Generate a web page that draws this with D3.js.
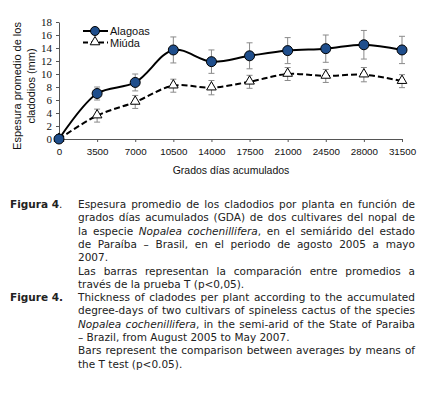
<!DOCTYPE html>
<html>
<head>
<meta charset="utf-8">
<script src="https://cdn.jsdelivr.net/npm/d3@7"></script>
<style>
  body { margin: 0; background: #fff; }
  svg { display: block; }
</style>
</head>
<body>
<script>
// categories and series
var gda = [0, 3500, 7000, 10500, 14000, 17500, 21000, 24500, 28000, 31500];
var alagoas = [0, 7.0, 8.7, 13.7, 11.9, 12.8, 13.6, 13.9, 14.5, 13.7];
var alagoasErr = [0.6, 1.0, 1.3, 2.0, 1.8, 2.0, 2.0, 2.1, 2.2, 2.1];
var miuda = [0, 3.6, 5.7, 8.2, 7.9, 8.8, 10.0, 9.7, 9.9, 8.9];
var miudaErr = [0.6, 1.0, 1.0, 1.0, 1.1, 1.0, 1.0, 1.0, 1.1, 1.0];
var yTicks = [0, 2, 4, 6, 8, 10, 12, 14, 16, 18];
var seriesNames = ["Alagoas", "Miúda"];

// caption lines; _ toggles italic, second item = justified
var captionEs = [
  ["Espesura promedio de los cladodios por planta en función de", true],
  ["grados días acumulados (GDA) de dos cultivares del nopal de", true],
  ["la especie _Nopalea cochenillifera_, en el semiárido del estado", true],
  ["de Paraíba – Brasil, en el periodo de agosto 2005 a mayo", true],
  ["2007.", false],
  ["Las barras representan la comparación entre promedios a", true],
  ["través de la prueba T (p<0,05).", false]
];
var captionEn = [
  ["Thickness of cladodes per plant according to the accumulated", true],
  ["degree-days of two cultivars of spineless cactus of the species", true],
  ["_Nopalea cochenillifera_, in the semi-arid of the State of Paraiba", true],
  ["– Brazil, from August 2005 to May 2007.", false],
  ["Bars represent the comparison between averages by means of", true],
  ["the T test (p<0.05).", false]
];

var width = 436, height = 398;
var svg = d3.select("body").append("svg")
    .attr("width", width)
    .attr("height", height);

//scales
var x = d3.scaleLinear().domain([0, 31500]).range([59, 402]);
var y = d3.scaleLinear().domain([0, 18]).range([139, 22]);

//y axis
var yAxis = svg.append("g")
    .attr("transform", "translate(59,0)")
    .call(d3.axisLeft(y).tickValues(yTicks).tickSize(3).tickSizeOuter(0));
yAxis.select(".domain").attr("stroke", "#555");
yAxis.selectAll(".tick line").attr("stroke", "#555");
yAxis.selectAll("text")
    .attr("font-family", "Liberation Serif, serif")
    .attr("font-size", 11)
    .attr("fill", "#111")
    .attr("dx", -1);

//x axis
var xAxis = svg.append("g")
    .attr("transform", "translate(0,139)")
    .call(d3.axisBottom(x).tickValues(gda).tickFormat(d3.format("d")).tickSize(3).tickSizeOuter(0));
xAxis.select(".domain").attr("stroke", "#555");
xAxis.selectAll(".tick line").attr("stroke", "#555");
xAxis.selectAll("text")
    .attr("font-family", "Liberation Sans, Arial, sans-serif")
    .attr("font-size", 9.8)
    .attr("fill", "#111")
    .attr("dy", "1.05em");

//axis titles
svg.append("text")
    .attr("x", 231)
    .attr("y", 174)
    .attr("text-anchor", "middle")
    .attr("font-family", "Liberation Sans, Arial, sans-serif")
    .attr("font-size", 10.5)
    .attr("fill", "#111")
    .text("Grados días acumulados");

var yTitle = svg.append("text")
    .attr("transform", "translate(20.5,86)rotate(-90)")
    .attr("text-anchor", "middle")
    .attr("font-family", "Liberation Sans, Arial, sans-serif")
    .attr("font-size", 11)
    .attr("fill", "#111");
yTitle.append("tspan").attr("x", 0).attr("y", 0).text("Espesura promedio de los");
yTitle.append("tspan").attr("x", 0).attr("y", 14.5).text("cladodios (mm)");

//error bars
function errorBars(vals, errs) {
    var g = svg.append("g").attr("stroke", "#8a8a8a").attr("stroke-width", 1);
    gda.forEach(function(d, i) {
        var top = y(vals[i] + errs[i]), bot = y(vals[i] - errs[i]), cx = x(d);
        g.append("line").attr("x1", cx).attr("x2", cx).attr("y1", top).attr("y2", Math.min(bot, 139));
        g.append("line").attr("x1", cx - 3).attr("x2", cx + 3).attr("y1", top).attr("y2", top);
        if (bot <= 139.5) {
            g.append("line").attr("x1", cx - 3).attr("x2", cx + 3).attr("y1", bot).attr("y2", bot);
        }
    });
}
errorBars(miuda, miudaErr);
errorBars(alagoas, alagoasErr);

//lines
var line = d3.line()
    .x(function(d, i) { return x(gda[i]); })
    .y(function(d) { return y(d); })
    .curve(d3.curveCatmullRom.alpha(0.5));

svg.append("path")
    .datum(miuda)
    .attr("fill", "none")
    .attr("stroke", "#000")
    .attr("stroke-width", 2)
    .attr("stroke-dasharray", "6,3")
    .attr("d", line);

svg.append("path")
    .datum(alagoas)
    .attr("fill", "none")
    .attr("stroke", "#000")
    .attr("stroke-width", 2)
    .attr("d", line);

//markers
var tri = d3.symbol().type(d3.symbolTriangle).size(40);
svg.selectAll(".miuda")
    .data(miuda)
    .enter()
    .append("path")
    .attr("class", "miuda")
    .attr("transform", function(d, i) { return "translate(" + x(gda[i]) + "," + (y(d) - 0.5) + ")"; })
    .attr("d", tri)
    .attr("fill", "#fff")
    .attr("stroke", "#000")
    .attr("stroke-width", 1);

svg.selectAll(".alagoas")
    .data(alagoas)
    .enter()
    .append("circle")
    .attr("class", "alagoas")
    .attr("cx", function(d, i) { return x(gda[i]); })
    .attr("cy", function(d) { return y(d); })
    .attr("r", 5)
    .attr("fill", "#1f4e8c")
    .attr("stroke", "#000")
    .attr("stroke-width", 1);

//legend
var legend = svg.append("g").attr("transform", "translate(83,31)");
legend.append("line").attr("x1", 0).attr("x2", 25).attr("y1", 0).attr("y2", 0)
    .attr("stroke", "#000").attr("stroke-width", 2);
legend.append("circle").attr("cx", 12).attr("cy", 0).attr("r", 4.5)
    .attr("fill", "#1f4e8c").attr("stroke", "#000");
legend.append("line").attr("x1", 0).attr("x2", 25).attr("y1", 11.5).attr("y2", 11.5)
    .attr("stroke", "#000").attr("stroke-width", 2).attr("stroke-dasharray", "5,3");
legend.append("path").attr("transform", "translate(12,11)").attr("d", tri)
    .attr("fill", "#fff").attr("stroke", "#000");
legend.selectAll(".lt")
    .data(seriesNames)
    .enter()
    .append("text")
    .attr("x", 27)
    .attr("y", function(d, i) { return i * 11.5 + 4; })
    .attr("font-family", "Liberation Sans, Arial, sans-serif")
    .attr("font-size", 11)
    .attr("fill", "#111")
    .text(function(d) { return d; });

//caption with justified lines
var capFont = "DejaVu Sans, Verdana, sans-serif", capSize = 10.5;
var capLeft = 78, capRight = 415, lineH = 13.3;

function makeWord(g, word, px, py) {
    var t = g.append("text")
        .attr("x", px).attr("y", py)
        .attr("font-family", capFont)
        .attr("font-size", capSize)
        .attr("fill", "#222");
    word.forEach(function(run) {
        t.append("tspan").attr("font-style", run.it ? "italic" : "normal").text(run.t);
    });
    return t;
}

function parseLine(str) {
    var italic = false;
    return str.split(" ").map(function(w) {
        var runs = [];
        w.split("_").forEach(function(part, k) {
            if (k > 0) italic = !italic;
            if (part.length) runs.push({t: part, it: italic});
        });
        return runs;
    });
}

function captionLine(g, item, py) {
    var words = parseLine(item[0]);
    var texts = words.map(function(w) { return makeWord(g, w, 0, py); });
    var widths = texts.map(function(t) { return t.node().getComputedTextLength(); });
    var total = d3.sum(widths);
    var space = capSize * 0.318;
    var avail = capRight - capLeft;
    if (item[1] && words.length > 1) space = (avail - total) / (words.length - 1);
    // squeeze glyphs a little if a line would not fit
    if (space < capSize * 0.2) {
        space = capSize * 0.2;
        var k = (avail - space * (words.length - 1)) / total;
        widths = widths.map(function(w, i) {
            texts[i].attr("textLength", w * k).attr("lengthAdjust", "spacingAndGlyphs");
            return w * k;
        });
    }
    var px = capLeft;
    texts.forEach(function(t, i) {
        t.attr("x", px);
        px += widths[i] + space;
    });
}

var cap = svg.append("g");
var lab1 = cap.append("text").attr("x", 10).attr("y", 208)
    .attr("font-family", capFont).attr("font-size", capSize)
    .attr("fill", "#222");
lab1.append("tspan").attr("font-weight", "bold").text("Figura 4");
lab1.append("tspan").text(".");
captionEs.forEach(function(item, i) { captionLine(cap, item, 208 + i * lineH); });
var enTop = 208 + captionEs.length * lineH;
cap.append("text").attr("x", 10).attr("y", enTop)
    .attr("font-family", capFont).attr("font-size", capSize).attr("font-weight", "bold")
    .attr("fill", "#222").text("Figure 4.");
captionEn.forEach(function(item, i) { captionLine(cap, item, enTop + i * lineH); });
</script>
</body>
</html>
